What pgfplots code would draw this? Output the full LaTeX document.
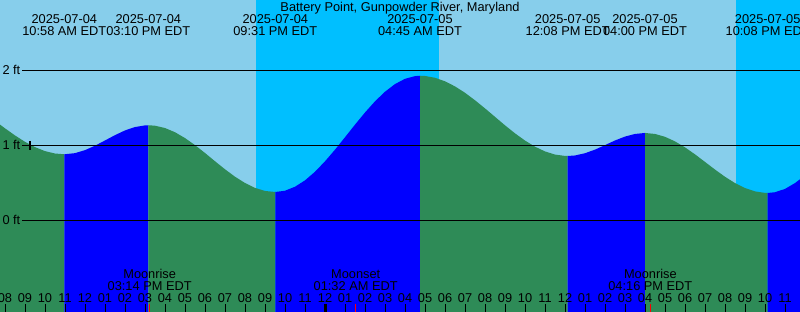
\documentclass[border=0pt]{standalone}
\usepackage{fontspec}
\setmainfont{Liberation Sans}
\usepackage{pgfplots}
\pgfplotsset{compat=1.18}
\definecolor{skyday}{HTML}{87CEEB}
\definecolor{skynight}{HTML}{00BFFF}
\definecolor{ebbgreen}{HTML}{2E8B57}
\definecolor{floodblue}{HTML}{0000FF}
\newcommand\evlabel[3]{%
  \node[anchor=base,inner sep=0pt] at (axis cs:#1,2.620) {#2};
  \node[anchor=base,inner sep=0pt] at (axis cs:#1,2.460) {#3};}
\newcommand\moonlabel[3]{%
  \node[anchor=base,inner sep=0pt] at (axis cs:#1,-0.771) {#2};
  \node[anchor=base,inner sep=0pt] at (axis cs:#1,-0.927) {#3};}
\begin{document}
\fontsize{12.8bp}{15bp}\selectfont
\begin{tikzpicture}
\begin{axis}[
  scale only axis, width=800bp, height=312bp,
  xmin=7.75, xmax=47.75, ymin=-1.22, ymax=2.94,
  axis background/.style={fill=skyday},
  axis line style={draw=none},
  axis on top=true,
  ytick=\empty,
  xtick={8,...,48},
  xticklabels={08,09,10,11,12,01,02,03,04,05,06,07,08,09,10,11,12,01,02,03,04,05,06,07,08,09,10,11,12,01,02,03,04,05,06,07,08,09,10,11,12},
  xtick pos=bottom, tick align=inside, major tick length=8bp,
  tick style={black, line width=1bp},
  xticklabel style={anchor=base, yshift=9.8bp, inner sep=0pt},
  /pgf/number format/assume math mode=true,
]
% night sky
\addplot[fill=skynight, draw=none] coordinates {(20.55,-1.3) (20.55,3) (29.7,3) (29.7,-1.3)};
\addplot[fill=skynight, draw=none] coordinates {(44.55,-1.3) (44.55,3) (48,3) (48,-1.3)};
% tide: falling (green) and rising (blue)
\addplot[fill=ebbgreen, draw=none] coordinates {(7.75,-1.3) (7.75,1.279) (8,1.229) (8.5,1.134) (9,1.049) (9.5,0.978) (10,0.925) (10.5,0.893) (10.967,0.883) (10.967,-1.3)};
\addplot[fill=floodblue, draw=none] coordinates {(10.967,-1.3) (10.967,0.883) (11.5,0.898) (12,0.938) (12.5,0.997) (13,1.067) (13.5,1.138) (14,1.201) (14.5,1.246) (15,1.268) (15.167,1.270) (15.167,-1.3)};
\addplot[fill=ebbgreen, draw=none] coordinates {(15.167,-1.3) (15.167,1.270) (15.5,1.264) (16,1.233) (16.5,1.177) (17,1.099) (17.5,1.005) (18,0.900) (18.5,0.790) (19,0.683) (19.5,0.584) (20,0.500) (20.5,0.435) (21,0.394) (21.517,0.380) (21.517,-1.3)};
\addplot[fill=floodblue, draw=none] coordinates {(21.517,-1.3) (21.517,0.380) (22,0.397) (22.5,0.450) (23,0.535) (23.5,0.650) (24,0.789) (24.5,0.944) (25,1.110) (25.5,1.278) (26,1.440) (26.5,1.589) (27,1.717) (27.5,1.819) (28,1.889) (28.5,1.925) (28.75,1.930) (28.75,-1.3)};
\addplot[fill=ebbgreen, draw=none] coordinates {(28.75,-1.3) (28.75,1.930) (29,1.927) (29.5,1.903) (30,1.856) (30.5,1.788) (31,1.703) (31.5,1.603) (32,1.495) (32.5,1.382) (33,1.269) (33.5,1.162) (34,1.066) (34.5,0.984) (35,0.921) (35.5,0.879) (36,0.861) (36.133,0.860) (36.133,-1.3)};
\addplot[fill=floodblue, draw=none] coordinates {(36.133,-1.3) (36.133,0.860) (36.5,0.867) (37,0.897) (37.5,0.945) (38,1.005) (38.5,1.067) (39,1.119) (39.5,1.154) (40,1.167) (40,-1.3)};
\addplot[fill=ebbgreen, draw=none] coordinates {(40,-1.3) (40,1.167) (40.5,1.154) (41,1.116) (41.5,1.055) (42,0.975) (42.5,0.882) (43,0.781) (43.5,0.679) (44,0.583) (44.5,0.499) (45,0.433) (45.5,0.388) (46,0.368) (46.133,0.367) (46.133,-1.3)};
\addplot[fill=floodblue, draw=none] coordinates {(46.133,-1.3) (46.133,0.367) (46.5,0.377) (47,0.421) (47.5,0.499) (47.75,0.550) (47.75,-1.3)};
% datum lines
\addplot[black, line width=1bp] coordinates {(8.85,0) (47.75,0)};
\addplot[black, line width=1bp] coordinates {(8.85,1) (47.75,1)};
\addplot[black, line width=1bp] coordinates {(8.85,2) (47.75,2)};
% current time marker
\addplot[only marks, mark=+, mark size=4.5bp, line width=1.3bp, black] coordinates {(9.25,1.0)};
% midnight ticks
\addplot[black, line width=3bp] coordinates {(24,-1.22) (24,-1.113)};
\addplot[black, line width=3bp] coordinates {(48,-1.22) (48,-1.113)};
% moon event ticks
\addplot[red, line width=1bp] coordinates {(15.233,-1.22) (15.233,-1.113)};
\addplot[red, line width=1bp] coordinates {(25.533,-1.22) (25.533,-1.113)};
\addplot[red, line width=1bp] coordinates {(40.267,-1.22) (40.267,-1.113)};
% labels
\node[anchor=base east,inner sep=0pt] at (axis cs:8.775,1.943) {2 ft};
\node[anchor=base east,inner sep=0pt] at (axis cs:8.775,0.943) {1 ft};
\node[anchor=base east,inner sep=0pt] at (axis cs:8.775,-0.057) {0 ft};
\node[anchor=base,inner sep=0pt] at (axis cs:27.75,2.784) {Battery Point, Gunpowder River, Maryland};
\evlabel{10.967}{2025-07-04}{10:58 AM EDT}
\evlabel{15.167}{2025-07-04}{03:10 PM EDT}
\evlabel{21.517}{2025-07-04}{09:31 PM EDT}
\evlabel{28.75}{2025-07-05}{04:45 AM EDT}
\evlabel{36.133}{2025-07-05}{12:08 PM EDT}
\evlabel{40.0}{2025-07-05}{04:00 PM EDT}
\evlabel{46.133}{2025-07-05}{10:08 PM EDT}
\moonlabel{15.233}{Moonrise}{03:14 PM EDT}
\moonlabel{25.533}{Moonset}{01:32 AM EDT}
\moonlabel{40.267}{Moonrise}{04:16 PM EDT}
\end{axis}
\pgfresetboundingbox
\useasboundingbox (current axis.south west) rectangle (current axis.north east);
\end{tikzpicture}
\end{document}
